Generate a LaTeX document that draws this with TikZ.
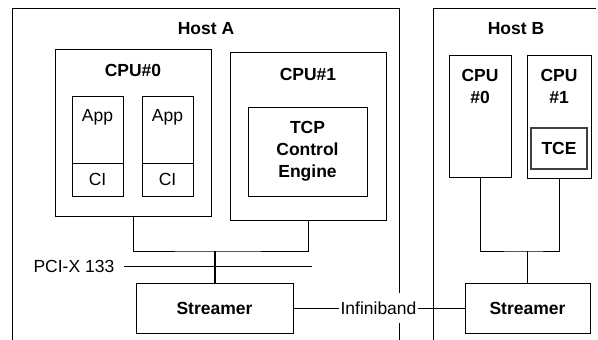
\documentclass[tikz,border=0pt]{standalone}
\usepackage{fontspec}
\setmainfont{Liberation Sans}
\begin{document}
\begin{tikzpicture}[x=1pt,y=-1pt,
  every node/.style={font=\fontsize{17.5}{21}\selectfont},
  box/.style={draw, rectangle, inner sep=0pt, line width=0.8pt},
  lbl/.style={inner sep=0pt, align=center},
  bold/.style={font=\fontsize{17.5}{22}\selectfont\bfseries},
  wire/.style={draw, line width=0.8pt},
  thick wire/.style={draw, line width=1.8pt}]
\useasboundingbox (0,0) rectangle (598,340);
% Hosts
\draw[line width=0.8pt] (12,340) -- (12,8) -- (399,8) -- (399,340);
\draw[line width=0.8pt] (433,340) -- (433,8) -- (596,8);
\node[lbl,bold] (hostA) at (206,29) {Host A};
\node[lbl,bold] (hostB) at (516,29) {Host B};
% Host A CPU#0
\node[box, minimum width=156pt, minimum height=167pt] (cpu0A) at (133,132.5) {};
\node[lbl,bold] (cpu0Alab) at (133,70) {CPU\#0};
\node[box, minimum width=51pt, minimum height=67pt] (app1) at (97.5,129.5) {};
\node[box, minimum width=51pt, minimum height=33pt] (ci1) at (97.5,179.5) {};
\node[lbl] (app1lab) at (97.5,117) {App};
\node[lbl] at (ci1) {CI};
\node[box, minimum width=51pt, minimum height=67pt] (app2) at (167.5,129.5) {};
\node[box, minimum width=51pt, minimum height=33pt] (ci2) at (167.5,179.5) {};
\node[lbl] (app2lab) at (167.5,117) {App};
\node[lbl] at (ci2) {CI};
% Host A CPU#1
\node[box, minimum width=156pt, minimum height=168pt] (cpu1A) at (308,136) {};
\node[lbl,bold] (cpu1Alab) at (308,74) {CPU\#1};
\node[box, minimum width=119pt, minimum height=89pt, bold, align=center] (tceA) at (307.5,151.5) {TCP\\Control\\Engine};
% Streamers
\node[box, bold, minimum width=157pt, minimum height=50pt] (strA) at (214.5,308) {Streamer};
\node[box, bold, minimum width=125pt, minimum height=50pt] (strB) at (527.5,308) {Streamer};
% Host A bus
\coordinate (busA) at (215,251);
\draw[wire] (cpu0A.south) |- (busA) -| (cpu1A.south);
\draw[thick wire] (busA) -- (busA |- strA.north);
% PCI
\coordinate (pciL) at (124,266.5);
\coordinate (pciR) at (312,266.5);
\node[lbl, anchor=east] (pci) at (114.5,266.5) {PCI-X 133};
\draw[wire] (pciL) -- (pciR);
% Infiniband
\node[fill=white, inner xsep=1pt, inner ysep=0pt, minimum height=30pt] (ib) at (378.5,308) {Infiniband};
\draw[wire] (strA.east) -- (ib.west);
\draw[wire] (ib.east) -- (strB.west);
% Host B CPUs
\node[box, minimum width=62pt, minimum height=122pt] (cpu0B) at (480,116) {};
\node[lbl,bold] (cpu0Blab) at (480,86) {CPU\\\#0};
\node[box, minimum width=64pt, minimum height=123pt] (cpu1B) at (559,116.5) {};
\node[lbl,bold] (cpu1Blab) at (559,86) {CPU\\\#1};
\node[box, bold, draw=black!75, line width=1.1pt, minimum width=56pt, minimum height=41pt] (tceB) at (559,148.5) {TCE};
% Host B bus
\coordinate (busB) at (527.5,251);
\draw[wire] (cpu0B.south) |- (busB) -| (cpu1B.south);
\draw[wire] (busB) -- (strB.north);
\end{tikzpicture}
\end{document}
